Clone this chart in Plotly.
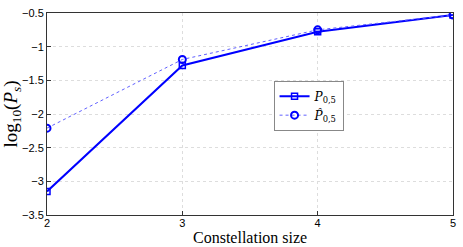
import plotly.graph_objects as go

sizes = [2, 3, 4, 5]
p_exact = [-3.15, -1.28, -0.78, -0.53]
p_approx = [-2.21, -1.19, -0.75, -0.53]
y_ticks = [-3.5, -3, -2.5, -2, -1.5, -1, -0.5]
y_tick_text = ["\u22123.5", "\u22123", "\u22122.5", "\u22122", "\u22121.5", "\u22121", "\u22120.5"]

fig = go.Figure()
fig.add_trace(go.Scatter(
    x=sizes, y=p_exact, mode="lines+markers",
    name="<i>P</i><sub>0,5</sub>",
    line=dict(color="#0000ff", width=2),
    marker=dict(symbol="square-open", size=6, color="#0000ff", line=dict(width=1.5)),
))
fig.add_trace(go.Scatter(
    x=sizes, y=p_approx, mode="lines+markers",
    name="<i>P\u0302</i><sub>0,5</sub>",
    line=dict(color="#6060ff", width=1, dash="dot"),
    marker=dict(symbol="circle-open", size=7, color="#0000ff", line=dict(width=2)),
))

axis_common = dict(
    showline=True, linecolor="#333333", linewidth=1, mirror=True,
    ticks="inside", ticklen=4, tickcolor="#333333",
    showgrid=True, gridcolor="#dddddd", griddash="dot", gridwidth=1,
    zeroline=False, ticklabeloverflow="allow",
    tickfont=dict(family="Liberation Sans, Arial, sans-serif", size=11, color="#000000"),
)

fig.update_layout(
    width=463, height=247,
    margin=dict(l=46, r=7, t=9, b=32),
    paper_bgcolor="white", plot_bgcolor="white",
    showlegend=True,
    legend=dict(
        x=0.558, y=0.665, xanchor="left", yanchor="top",
        bgcolor="white", bordercolor="#888888", borderwidth=1,
        font=dict(family="DejaVu Serif, serif", size=12, color="#000000"),
        itemwidth=30, tracegroupgap=4,
    ),
    xaxis=dict(
        range=[2, 5], tickvals=sizes, ticktext=[str(s) for s in sizes],
        ticklabelstandoff=-2,
        **axis_common,
    ),
    yaxis=dict(
        range=[-3.5, -0.5], tickvals=y_ticks, ticktext=y_tick_text,
        title=dict(text="log<sub>10</sub>(<i>P<sub>s</sub></i>)", standoff=2,
                   font=dict(family="Liberation Serif, DejaVu Serif, serif", size=19, color="#000000")),
        **axis_common,
    ),
    annotations=[dict(
        text="Constellation size", xref="paper", yref="paper", x=0.5, y=0,
        xanchor="center", yanchor="top", yshift=-12, showarrow=False,
        font=dict(family="Liberation Serif, DejaVu Serif, serif", size=16, color="#000000"),
    )],
)

fig.write_html("out.html", config={"displayModeBar": False},
               post_script="document.body.style.margin='0';document.body.style.overflow='hidden';")
